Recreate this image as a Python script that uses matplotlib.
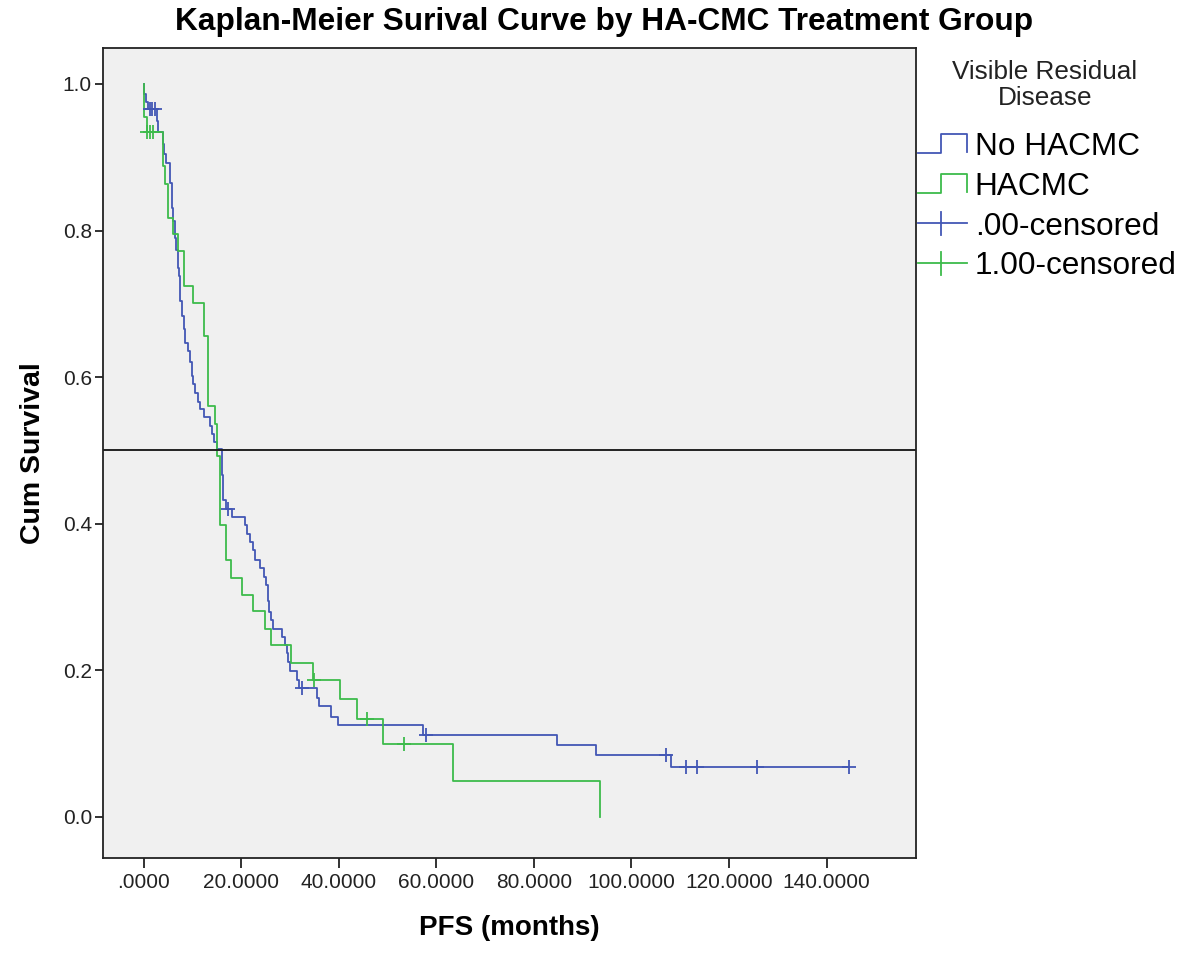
import numpy as np
import matplotlib
matplotlib.use("Agg")
import matplotlib.pyplot as plt
from matplotlib.legend_handler import HandlerBase
from matplotlib.lines import Line2D

plt.rcParams['font.family'] = ['Liberation Sans', 'DejaVu Sans']

# ---------------- data ----------------
title = "Kaplan-Meier Surival Curve by HA-CMC Treatment Group"
x_label = "PFS (months)"
y_label = "Cum Survival"
legend_title = "Visible Residual\nDisease"
group_labels = ["No HACMC", "HACMC"]
censor_labels = [".00-censored", "1.00-censored"]

# No HACMC: event times (months) and survival after each event
blue_t = [0.2, 0.5, 0.9, 2.7, 2.9, 3.9, 4.2, 4.6, 5.4, 5.8, 6.1, 6.4, 6.7, 7.1, 7.3,
          7.5, 7.8, 8.2, 8.5, 9.2, 9.5, 9.9, 10.2, 10.6, 11.2, 11.6, 12.3, 13.6, 14.0,
          14.5, 15.1, 16.0, 16.1, 16.2, 16.3, 17.0, 18.1, 20.8, 21.2, 21.8, 22.4, 22.9,
          23.9, 24.6, 25.1, 25.5, 25.7, 26.2, 26.5, 28.3, 29.0, 29.5, 29.7, 30.1, 31.4,
          31.8, 35.5, 36.0, 38.4, 39.8, 57.3, 84.8, 92.8, 108.0]
blue_s = [0.986, 0.976, 0.966, 0.950, 0.935, 0.918, 0.905, 0.892, 0.865, 0.831, 0.813,
          0.790, 0.774, 0.749, 0.738, 0.704, 0.683, 0.665, 0.647, 0.636, 0.620, 0.602,
          0.590, 0.579, 0.566, 0.556, 0.545, 0.533, 0.522, 0.511, 0.502, 0.489, 0.466,
          0.443, 0.432, 0.420, 0.409, 0.398, 0.386, 0.375, 0.364, 0.350, 0.339, 0.327,
          0.316, 0.294, 0.280, 0.268, 0.256, 0.246, 0.2345, 0.223, 0.212, 0.199, 0.187,
          0.1755, 0.162, 0.151, 0.137, 0.125, 0.112, 0.098, 0.0847, 0.0676]
blue_censored = [1.3, 1.8, 2.4, 17.4, 32.5, 57.8, 107.0, 111.1, 113.5, 125.8, 144.5]

# HACMC
green_t = [0.0, 0.7, 4.0, 4.5, 5.1, 6.0, 7.1, 8.4, 10.2, 12.3, 13.2, 14.7, 15.0, 15.7,
           16.9, 18.0, 20.1, 22.5, 24.9, 26.1, 30.2, 34.7, 40.3, 43.8, 49.1, 63.5, 93.6]
green_s = [0.955, 0.935, 0.8875, 0.864, 0.817, 0.795, 0.772, 0.724, 0.7016, 0.656, 0.561,
           0.536, 0.493, 0.398, 0.350, 0.3265, 0.303, 0.281, 0.256, 0.2345, 0.2105, 0.187,
           0.1605, 0.134, 0.100, 0.049, 0.0]
green_censored = [0.8, 1.35, 1.9, 34.9, 45.9, 53.4]

x_ticks = [0, 20, 40, 60, 80, 100, 120, 140]
y_ticks = [0.0, 0.2, 0.4, 0.6, 0.8, 1.0]

BLUE = '#4357b5'
GREEN = '#3dbb4b'


def step_value(times, surv, t):
    val = 1.0
    for ti, si in zip(times, surv):
        if ti <= t:
            val = si
    return val


def curve(times, surv, end):
    xs = [0.0] + list(times)
    ys = [1.0] + list(surv)
    if end > xs[-1]:
        xs.append(end)
        ys.append(ys[-1])
    return xs, ys


class StepHandler(HandlerBase):
    def create_artists(self, legend, orig_handle, xdescent, ydescent, width, height,
                       fontsize, trans):
        x0, y0 = -xdescent, -ydescent
        xs = [x0, x0 + 0.47 * width, x0 + 0.47 * width, x0 + width, x0 + width]
        ys = [y0, y0, y0 + height, y0 + height, y0 + 0.05 * height]
        ln = Line2D(xs, ys, color=orig_handle.get_color(), lw=1.3, transform=trans)
        return [ln]


class CensorHandler(HandlerBase):
    def create_artists(self, legend, orig_handle, xdescent, ydescent, width, height,
                       fontsize, trans):
        x0, y0 = -xdescent, -ydescent
        h = Line2D([x0, x0 + width], [y0 + 0.5 * height] * 2,
                   color=orig_handle.get_color(), lw=1.3, transform=trans)
        xm = x0 + 0.47 * width
        v = Line2D([xm, xm], [y0 - 0.1 * height, y0 + 1.1 * height],
                   color=orig_handle.get_color(), lw=1.3, transform=trans)
        return [h, v]


fig = plt.figure(figsize=(11.85, 9.55), dpi=100)
ax = fig.add_axes([103 / 1185, 97 / 955, (916 - 103) / 1185, (858 - 48) / 955])
ax.set_facecolor('#f0f0f0')

bx, by = curve(blue_t, blue_s, max(blue_censored))
gx, gy = curve(green_t, green_s, max(green_t))
lb, = ax.step(bx, by, where='post', color=BLUE, lw=1.3)
lg, = ax.step(gx, gy, where='post', color=GREEN, lw=1.3)

cb = ax.plot(blue_censored, [step_value(blue_t, blue_s, t) for t in blue_censored],
             ls='none', marker='+', ms=10, mew=1.3, color=BLUE)[0]
cg = ax.plot(green_censored, [step_value(green_t, green_s, t) for t in green_censored],
             ls='none', marker='+', ms=10, mew=1.3, color=GREEN)[0]

ax.axhline(0.5, color='#222222', lw=1.4)

ax.set_xlim(-8.3, 158.3)
ax.set_ylim(-0.056, 1.049)
ax.set_xticks(x_ticks)
ax.set_xticklabels([(f"{v:.4f}")[1:] if v == 0 else f"{v:.4f}" for v in x_ticks])
ax.set_yticks(y_ticks)
ax.set_yticklabels([f"{v:.1f}" for v in y_ticks])
ax.tick_params(axis='x', length=7, width=1.3, pad=4, labelsize=15, colors='#222222')
ax.tick_params(axis='y', length=6, width=1.3, pad=2, labelsize=15, colors='#222222')
for sp in ax.spines.values():
    sp.set_linewidth(1.3)
    sp.set_color('#222222')

ax.set_xlabel(x_label, fontsize=20, fontweight='bold', labelpad=16)
ax.set_ylabel(y_label, fontsize=20.5, fontweight='bold', labelpad=12)
fig.text(604 / 1185, 1 - 22 / 955, title, fontsize=22.8, fontweight='bold',
         ha='center', va='center')

# legend title and entries
fig.text(1045 / 1185, 1 - 85 / 955, legend_title, fontsize=18.8, ha='center',
         va='center', multialignment='center', linespacing=1.12, color='#222222')
leg = fig.legend([lb, lg, cb, cg], group_labels + censor_labels,
                 handler_map={lb: StepHandler(), lg: StepHandler(),
                              cb: CensorHandler(), cg: CensorHandler()},
                 loc='upper left', bbox_to_anchor=(918 / 1185, 1 - 132 / 955),
                 frameon=False, fontsize=22.7,
                 handlelength=1.55, handleheight=0.55, handletextpad=0.25,
                 labelspacing=0.31, borderpad=0.0, borderaxespad=0.0)

fig.savefig('out.png', dpi=100)
